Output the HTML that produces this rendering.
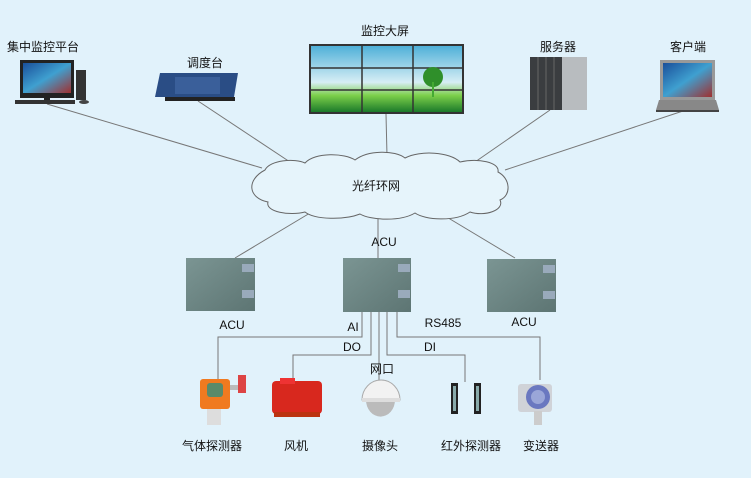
<!DOCTYPE html>
<html><head><meta charset="utf-8"><style>
html,body{margin:0;padding:0;background:#e1f2fb;}
svg{display:block}
text{font-family:"Liberation Sans","Noto Sans CJK SC",sans-serif;font-size:12px;fill:#111;text-anchor:middle}
</style></head><body>
<svg width="751" height="478" viewBox="0 0 751 478">
<rect width="751" height="478" fill="#e1f2fb"/>
<defs>
<linearGradient id="sky" x1="0" y1="0" x2="0" y2="1"><stop offset="0" stop-color="#4fb0d8"/><stop offset="0.55" stop-color="#d7eef5"/><stop offset="0.75" stop-color="#7ccf4a"/><stop offset="1" stop-color="#1b7a2a"/></linearGradient>
<linearGradient id="scr" x1="0" y1="0" x2="1" y2="1"><stop offset="0" stop-color="#1a4f9a"/><stop offset="0.5" stop-color="#3fa0d0"/><stop offset="1" stop-color="#a03030"/></linearGradient>
<linearGradient id="box" x1="0" y1="0" x2="1" y2="1"><stop offset="0" stop-color="#7b9593"/><stop offset="1" stop-color="#5d7573"/></linearGradient>
</defs>
<g stroke="#777" stroke-width="1" fill="none">
<line x1="47" y1="104" x2="262" y2="168"/>
<line x1="198" y1="101" x2="290" y2="162"/>
<line x1="386" y1="114" x2="387" y2="156"/>
<line x1="550" y1="110" x2="475" y2="162"/>
<line x1="683" y1="111" x2="505" y2="170"/>
<line x1="310" y1="213" x2="235" y2="258"/>
<line x1="378" y1="213" x2="378" y2="258"/>
<line x1="440" y1="213" x2="515" y2="258"/>
<polyline points="362,311 362,337 218,337 218,380"/>
<polyline points="371,311 371,355 293,355 293,380"/>
<polyline points="379,311 379,380"/>
<polyline points="387,311 387,355 465,355 465,382"/>
<polyline points="397,311 397,337 540,337 540,380"/>
</g>
<!-- cloud -->
<path d="M265,170 C270,160 295,158 305,163 C315,152 345,153 355,160 C368,150 395,150 405,158 C420,150 450,152 460,162 C478,158 500,162 498,172 C510,178 512,195 500,200 C505,210 485,217 470,212 C455,222 425,220 415,213 C400,222 370,220 360,214 C345,220 315,220 305,212 C290,216 265,212 268,202 C248,198 246,180 265,170 Z" fill="#e6f4fb" stroke="#666" stroke-width="1"/>
<text x="376" y="190">光纤环网</text>
<!-- top labels -->
<text x="43" y="51">集中监控平台</text>
<text x="205" y="67">调度台</text>
<text x="385" y="35">监控大屏</text>
<text x="558" y="51">服务器</text>
<text x="688" y="51">客户端</text>
<!-- PC -->
<rect x="20" y="60" width="54" height="38" fill="#222"/><rect x="23" y="63" width="48" height="30" fill="url(#scr)"/>
<rect x="44" y="98" width="6" height="6" fill="#222"/><rect x="15" y="100" width="60" height="4" fill="#333"/>
<rect x="76" y="70" width="10" height="30" fill="#333"/><ellipse cx="84" cy="102" rx="5" ry="2" fill="#444"/>
<!-- console -->
<polygon points="160,73 238,73 234,97 155,97" fill="#2a4d85"/><rect x="175" y="77" width="45" height="17" fill="#3a5f9a"/>
<rect x="165" y="97" width="70" height="4" fill="#222"/>
<!-- video wall -->
<rect x="309" y="44" width="155" height="70" fill="#333"/><rect x="311" y="46" width="151" height="66" fill="url(#sky)"/>
<g stroke="#333" stroke-width="1.5"><line x1="362" y1="46" x2="362" y2="112"/><line x1="413" y1="46" x2="413" y2="112"/><line x1="311" y1="68" x2="462" y2="68"/><line x1="311" y1="90" x2="462" y2="90"/></g>
<circle cx="433" cy="77" r="10" fill="#2f8f2a"/><rect x="432" y="82" width="2" height="15" fill="#4a3"/>
<!-- server -->
<rect x="530" y="57" width="57" height="53" fill="#b8bcbf"/><rect x="530" y="57" width="32" height="53" fill="#3a3d40"/>
<g stroke="#666"><line x1="538" y1="57" x2="538" y2="110"/><line x1="546" y1="57" x2="546" y2="110"/><line x1="554" y1="57" x2="554" y2="110"/></g>
<!-- laptop -->
<rect x="660" y="60" width="55" height="40" fill="#999"/><rect x="663" y="63" width="49" height="34" fill="url(#scr)"/>
<polygon points="659,100 716,100 719,110 656,110" fill="#888"/><rect x="656" y="110" width="63" height="2" fill="#444"/>
<!-- ACUs -->
<g>
<rect x="186" y="258" width="69" height="53" fill="url(#box)"/><rect x="242" y="264" width="12" height="8" fill="#9ab"/><rect x="242" y="290" width="12" height="8" fill="#9ab"/>
<rect x="343" y="258" width="68" height="54" fill="url(#box)"/><rect x="398" y="264" width="12" height="8" fill="#9ab"/><rect x="398" y="290" width="12" height="8" fill="#9ab"/>
<rect x="487" y="259" width="69" height="53" fill="url(#box)"/><rect x="543" y="265" width="12" height="8" fill="#9ab"/><rect x="543" y="291" width="12" height="8" fill="#9ab"/>
</g>
<text x="384" y="246">ACU</text>
<text x="232" y="329">ACU</text>
<text x="524" y="326">ACU</text>
<text x="353" y="331">AI</text>
<text x="443" y="327">RS485</text>
<text x="352" y="351">DO</text>
<text x="430" y="351">DI</text>
<text x="382" y="373">网口</text>
<!-- gas detector -->
<rect x="200" y="379" width="30" height="30" rx="3" fill="#f07a20"/><rect x="207" y="383" width="16" height="14" rx="3" fill="#5a8a6a"/>
<rect x="207" y="409" width="14" height="16" fill="#ddd"/><rect x="238" y="375" width="8" height="18" fill="#d44"/><rect x="230" y="385" width="8" height="5" fill="#bbb"/>
<!-- fan -->
<rect x="272" y="381" width="50" height="33" rx="4" fill="#d8281e"/><rect x="280" y="378" width="15" height="6" fill="#e33"/><rect x="274" y="412" width="46" height="5" fill="#b31"/>
<!-- camera -->
<path d="M362,400 A19,20 0 0 1 400,400 Z" fill="#f2f2f2" stroke="#aaa"/><path d="M366,400 A14,16 0 0 0 395,400 Z" fill="#bbb"/><rect x="362" y="398" width="38" height="4" fill="#ddd"/>
<!-- IR -->
<rect x="451" y="383" width="7" height="31" fill="#222"/><rect x="453" y="386" width="3" height="25" fill="#8aa"/>
<rect x="474" y="383" width="7" height="31" fill="#222"/><rect x="476" y="386" width="3" height="25" fill="#8aa"/>
<!-- transmitter -->
<rect x="518" y="384" width="34" height="28" rx="3" fill="#d0d3d8"/><circle cx="538" cy="397" r="12" fill="#6a78c0"/><circle cx="538" cy="397" r="7" fill="#9aa6d8"/><rect x="534" y="411" width="8" height="14" fill="#ccc"/>
<!-- bottom labels -->
<text x="212" y="450">气体探测器</text>
<text x="296" y="450">风机</text>
<text x="380" y="450">摄像头</text>
<text x="471" y="450">红外探测器</text>
<text x="541" y="450">变送器</text>
</svg>
</body></html>
